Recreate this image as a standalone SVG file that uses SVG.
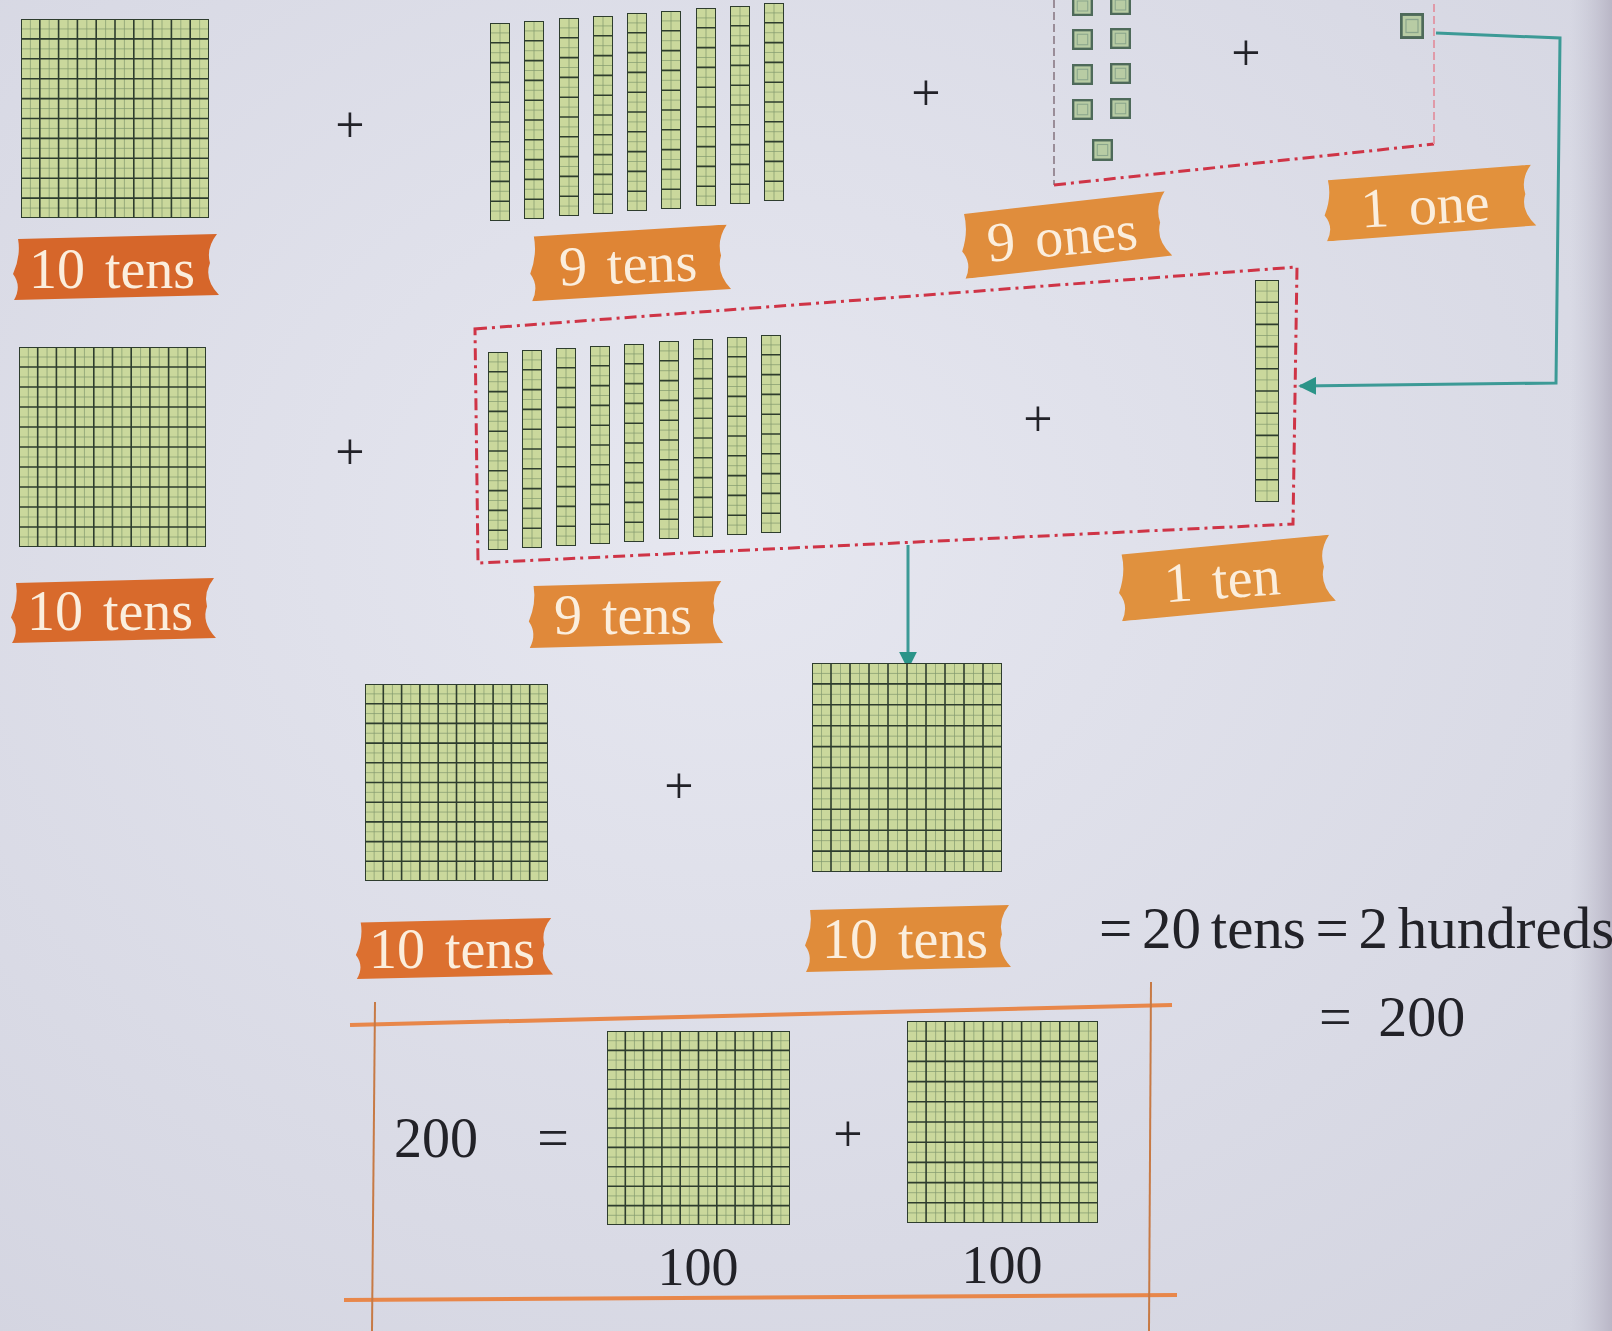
<svg xmlns="http://www.w3.org/2000/svg" xmlns:xlink="http://www.w3.org/1999/xlink" width="1612" height="1331" viewBox="0 0 1612 1331">
<defs>
<radialGradient id="bg" cx="0.45" cy="0.4" r="0.8">
<stop offset="0" stop-color="#e6e7f0"/>
<stop offset="1" stop-color="#d3d4e0"/>
</radialGradient>
<linearGradient id="edge" x1="0" y1="0" x2="1" y2="0">
<stop offset="0" stop-color="#c8c8d6" stop-opacity="0"/>
<stop offset="1" stop-color="#b9b6c6" stop-opacity="1"/>
</linearGradient>
<symbol id="hund" viewBox="0 0 100 100" preserveAspectRatio="none">
<rect x="0" y="0" width="100" height="100" class="cellfill"/>
<path class="minor" d="M5 0V100M15 0V100M25 0V100M35 0V100M45 0V100M55 0V100M65 0V100M75 0V100M85 0V100M95 0V100M0 5H100M0 15H100M0 25H100M0 35H100M0 45H100M0 55H100M0 65H100M0 75H100M0 85H100M0 95H100"/>
<path class="major" d="M10 0V100M20 0V100M30 0V100M40 0V100M50 0V100M60 0V100M70 0V100M80 0V100M90 0V100M0 10H100M0 20H100M0 30H100M0 40H100M0 50H100M0 60H100M0 70H100M0 80H100M0 90H100"/>
<rect x="0" y="0" width="100" height="100" class="border"/>
</symbol>
<symbol id="rod" viewBox="0 0 10 100" preserveAspectRatio="none">
<rect x="0" y="0" width="10" height="100" class="cellfill"/>
<path class="minor" d="M5 0V100M0 5H10M0 15H10M0 25H10M0 35H10M0 45H10M0 55H10M0 65H10M0 75H10M0 85H10M0 95H10"/>
<path class="major" d="M0 10H10M0 20H10M0 30H10M0 40H10M0 50H10M0 60H10M0 70H10M0 80H10M0 90H10"/>
<rect x="0" y="0" width="10" height="100" class="border"/>
</symbol>
<symbol id="one" viewBox="0 0 20 20" preserveAspectRatio="none">
<rect x="1" y="1" width="18" height="18" fill="#b8cca4" stroke="#4e6a5a" stroke-width="2.5"/>
<rect x="5" y="5" width="10" height="10" fill="none" stroke="#8aa58c" stroke-width="1"/>
</symbol>
<symbol id="ribbon" viewBox="0 0 210 66" preserveAspectRatio="none">
<path d="M8 5 L206 0 Q195 14 199 29 Q193 45 208 61 L4 66 Q12 52 3 40 Q11 22 8 5 Z"/>
</symbol>
<marker id="arr" viewBox="0 0 10 10" refX="9" refY="5" markerWidth="6" markerHeight="6" orient="auto" markerUnits="strokeWidth">
<path d="M0 0 L10 5 L0 10 Z" fill="#2b9488"/>
</marker>
<style>
.cellfill{fill:#cad89c}
.minor{stroke:#82996f;stroke-width:0.7;fill:none;vector-effect:non-scaling-stroke}
.major{stroke:#2e3d2e;stroke-width:1.6;fill:none;vector-effect:non-scaling-stroke}
.border{stroke:#2e3d2e;stroke-width:2;fill:none;vector-effect:non-scaling-stroke}
.lt{font-family:"Liberation Serif","Times New Roman",serif;font-size:56px;fill:#fbeedd;text-anchor:middle;word-spacing:6px}
.t{font-family:"Liberation Serif","Times New Roman",serif;fill:#222228}
.plus{font-family:"Liberation Serif","Times New Roman",serif;font-size:52px;fill:#222228;text-anchor:middle}
.dash{fill:none;stroke:#cf3446;stroke-width:3;stroke-dasharray:12 5 3 5}
.teal{fill:none;stroke:#3c9a96;stroke-width:3}
.orl{stroke:#e8874a;stroke-width:4;fill:none}
.orv{stroke:#c77a45;stroke-width:2;fill:none}
</style>
</defs>

<rect x="0" y="0" width="1612" height="1331" fill="url(#bg)"/>
<rect x="1570" y="0" width="42" height="1331" fill="url(#edge)"/>

<g id="connectors">
<path class="teal" d="M1436 33 L1560 38 L1556 383 L1300 386" marker-end="url(#arr)"/>
<path class="teal" d="M908 545 V668" stroke="#2b9488" marker-end="url(#arr)"/>
</g>

<g id="hundred-1"><use xlink:href="#hund" x="21" y="19" width="188" height="199"/></g>
<g id="plus-1"><text class="plus" x="350" y="142">+</text></g>
<g id="tens-top">
<use xlink:href="#rod" x="490" y="23" width="20" height="198"/>
<use xlink:href="#rod" x="524" y="21" width="20" height="198"/>
<use xlink:href="#rod" x="559" y="18" width="20" height="198"/>
<use xlink:href="#rod" x="593" y="16" width="20" height="198"/>
<use xlink:href="#rod" x="627" y="13" width="20" height="198"/>
<use xlink:href="#rod" x="661" y="11" width="20" height="198"/>
<use xlink:href="#rod" x="696" y="8" width="20" height="198"/>
<use xlink:href="#rod" x="730" y="6" width="20" height="198"/>
<use xlink:href="#rod" x="764" y="3" width="20" height="198"/>
</g>
<g id="plus-2"><text class="plus" x="926" y="110">+</text></g>
<g id="ones-box">
<path d="M1054 0 V185" fill="none" stroke="#9a8d98" stroke-width="2" stroke-dasharray="8 4"/>
<path class="dash" d="M1054 185 L1434 144" stroke-dasharray="8 4"/>
<path d="M1434 144 V0" fill="none" stroke="#e09aa8" stroke-width="2" stroke-dasharray="8 4"/>
<use xlink:href="#one" x="1072" y="-4" width="21" height="20"/>
<use xlink:href="#one" x="1110" y="-5" width="21" height="20"/>
<use xlink:href="#one" x="1072" y="29" width="21" height="21"/>
<use xlink:href="#one" x="1110" y="28" width="21" height="21"/>
<use xlink:href="#one" x="1072" y="64" width="21" height="21"/>
<use xlink:href="#one" x="1110" y="63" width="21" height="21"/>
<use xlink:href="#one" x="1072" y="99" width="21" height="21"/>
<use xlink:href="#one" x="1110" y="98" width="21" height="21"/>
<use xlink:href="#one" x="1092" y="139" width="21" height="22"/>
</g>
<g id="plus-3"><text class="plus" x="1246" y="70">+</text></g>
<g id="one-1"><use xlink:href="#one" x="1400" y="13" width="24" height="26"/></g>

<g id="label-10tens-1"><use xlink:href="#ribbon" x="10" y="234" width="211" height="66" fill="#d6662a"/><text class="lt" x="112" y="288">10 tens</text></g>
<g id="label-9tens-1" transform="rotate(-2 628 263)"><use xlink:href="#ribbon" x="527" y="228" width="205" height="70" fill="#df8535"/><text class="lt" x="628" y="283">9 tens</text></g>
<g id="label-9ones" transform="rotate(-5 1065 234)"><use xlink:href="#ribbon" x="958" y="200" width="214" height="70" fill="#e08d3c"/><text class="lt" x="1062" y="255">9 ones</text></g>
<g id="label-1one" transform="rotate(-3 1429 203)"><use xlink:href="#ribbon" x="1321" y="170" width="216" height="66" fill="#e2913c"/><text class="lt" x="1425" y="224">1 one</text></g>

<g id="hundred-2"><use xlink:href="#hund" x="19" y="347" width="187" height="200"/></g>
<g id="plus-4"><text class="plus" x="350" y="469">+</text></g>
<g id="regroup-box">
<path class="dash" d="M475 329 L1297 267 L1293 524 L478 563 Z"/>
</g>
<g id="tens-middle">
<use xlink:href="#rod" x="488" y="352" width="20" height="198"/>
<use xlink:href="#rod" x="522" y="350" width="20" height="198"/>
<use xlink:href="#rod" x="556" y="348" width="20" height="198"/>
<use xlink:href="#rod" x="590" y="346" width="20" height="198"/>
<use xlink:href="#rod" x="624" y="344" width="20" height="198"/>
<use xlink:href="#rod" x="659" y="341" width="20" height="198"/>
<use xlink:href="#rod" x="693" y="339" width="20" height="198"/>
<use xlink:href="#rod" x="727" y="337" width="20" height="198"/>
<use xlink:href="#rod" x="761" y="335" width="20" height="198"/>
</g>
<g id="plus-5"><text class="plus" x="1038" y="436">+</text></g>
<g id="ten-1"><use xlink:href="#rod" x="1255" y="280" width="24" height="222"/></g>

<g id="label-10tens-2"><use xlink:href="#ribbon" x="8" y="578" width="210" height="65" fill="#d86a2c"/><text class="lt" x="110" y="630">10 tens</text></g>
<g id="label-9tens-2"><use xlink:href="#ribbon" x="526" y="581" width="199" height="67" fill="#e0893a"/><text class="lt" x="623" y="634">9 tens</text></g>
<g id="label-1ten" transform="rotate(-4 1225 577)"><use xlink:href="#ribbon" x="1115" y="542" width="221" height="72" fill="#e0913e"/><text class="lt" x="1222" y="598">1 ten</text></g>

<g id="hundred-3"><use xlink:href="#hund" x="365" y="684" width="183" height="197"/></g>
<g id="plus-6"><text class="plus" x="679" y="803">+</text></g>
<g id="hundred-4"><use xlink:href="#hund" x="812" y="663" width="190" height="209"/></g>
<g id="label-10tens-3"><use xlink:href="#ribbon" x="353" y="918" width="202" height="61" fill="#dc7030"/><text class="lt" x="452" y="968">10 tens</text></g>
<g id="label-10tens-4"><use xlink:href="#ribbon" x="802" y="905" width="211" height="67" fill="#e08c3a"/><text class="lt" x="905" y="958">10 tens</text></g>

<g id="result-text">
<text class="t" x="1099" y="948" font-size="59" word-spacing="-5">= 20 tens = 2 hundreds</text>
<text class="t" x="1319" y="1036" font-size="58" word-spacing="12">= 200</text>
</g>

<g id="summary-box">
<path class="orl" d="M350 1025 L1172 1005"/>
<path class="orl" d="M344 1300 L1177 1295"/>
<path class="orv" d="M375 1002 L372 1331"/>
<path class="orv" d="M1151 982 L1149 1331"/>
<text class="t" x="394" y="1157" font-size="56">200</text>
<text class="t" x="553" y="1157" font-size="56" text-anchor="middle">=</text>
<use xlink:href="#hund" x="607" y="1031" width="183" height="194"/>
<text class="plus" x="848" y="1151">+</text>
<use xlink:href="#hund" x="907" y="1021" width="191" height="202"/>
<text class="t" x="698" y="1285" font-size="54" text-anchor="middle">100</text>
<text class="t" x="1002" y="1283" font-size="54" text-anchor="middle">100</text>
</g>
</svg>
